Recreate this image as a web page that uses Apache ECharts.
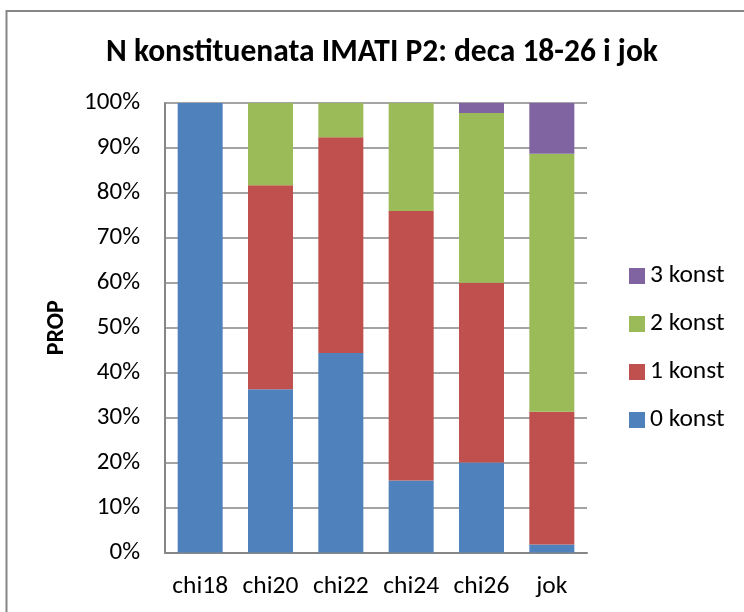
<!DOCTYPE html>
<html>
<head>
<meta charset="utf-8">
<script src="https://cdn.jsdelivr.net/npm/echarts@6/dist/echarts.min.js"></script>
<style>
  html, body { margin: 0; padding: 0; background: #fff; }
  #chart { width: 744px; height: 612px; }
</style>
</head>
<body>
<div id="chart"></div>
<script>
// categories and shares (in %)
const categories = ['chi18', 'chi20', 'chi22', 'chi24', 'chi26', 'jok'];
const konst0 = [100, 36.3, 44.4, 16.0, 20.0, 1.8];
const konst1 = [0, 45.4, 48.0, 60.0, 40.0, 29.5];
const konst2 = [0, 18.3, 7.6, 24.0, 37.8, 57.4];
const konst3 = [0, 0, 0, 0, 2.2, 11.3];
const yTicks = [0, 10, 20, 30, 40, 50, 60, 70, 80, 90, 100];

const chart = echarts.init(document.getElementById('chart'));
const fontFam = 'Carlito, Lato, sans-serif';
const gray = '#868686';

function bar(name, data, color) {
  return {
    name: name,
    type: 'bar',
    stack: 'all',
    data: data,
    barWidth: '64%',
    itemStyle: { color: color },
    emphasis: { disabled: true }
  };
}

chart.setOption({
  animation: false,
  graphic: [{
    // chart border (only top and left are inside the picture)
    type: 'polyline',
    shape: { points: [[6.5, 612], [6.5, 11], [744, 11]] },
    style: { fill: 'none', stroke: gray, lineWidth: 2 },
    silent: true
  }, {
    type: 'text',
    x: 382,
    y: 53,
    style: {
      text: 'N konstituenata IMATI P2: deca 18-26 i jok',
      align: 'center',
      verticalAlign: 'middle',
      font: 'bold 31.5px ' + fontFam,
      fill: '#000'
    },
    silent: true
  }],
  grid: { left: 165, right: 157, top: 103, bottom: 59.5, containLabel: false },
  legend: {
    orient: 'vertical',
    left: 629,
    top: 263,
    padding: 0,
    itemWidth: 16,
    itemHeight: 16,
    itemGap: 22,
    icon: 'rect',
    data: ['3 konst', '2 konst', '1 konst', '0 konst'],
    textStyle: { fontFamily: fontFam, fontSize: 25.5, color: '#000' }
  },
  xAxis: {
    type: 'category',
    data: categories,
    axisLine: { lineStyle: { color: gray, width: 2 } },
    axisTick: { show: false },
    axisLabel: { interval: 0, fontFamily: fontFam, fontSize: 25.5, color: '#000', margin: 21 }
  },
  yAxis: {
    type: 'value',
    min: 0,
    max: 100,
    interval: 10,
    name: 'PROP',
    nameLocation: 'middle',
    nameGap: 96,
    nameTextStyle: { fontFamily: fontFam, fontSize: 24, fontWeight: 'bold', color: '#000' },
    axisLine: { show: true, lineStyle: { color: gray, width: 2 } },
    axisTick: { show: false },
    splitLine: { lineStyle: { color: gray, width: 1.5 } },
    axisLabel: {
      fontFamily: fontFam, fontSize: 25, color: '#000', margin: 25,
      formatter: v => yTicks.includes(v) ? v + '%' : ''
    }
  },
  series: [
    bar('0 konst', konst0, '#4F81BD'),
    bar('1 konst', konst1, '#C0504D'),
    bar('2 konst', konst2, '#9BBB59'),
    bar('3 konst', konst3, '#8064A2')
  ]
});
</script>
</body>
</html>
